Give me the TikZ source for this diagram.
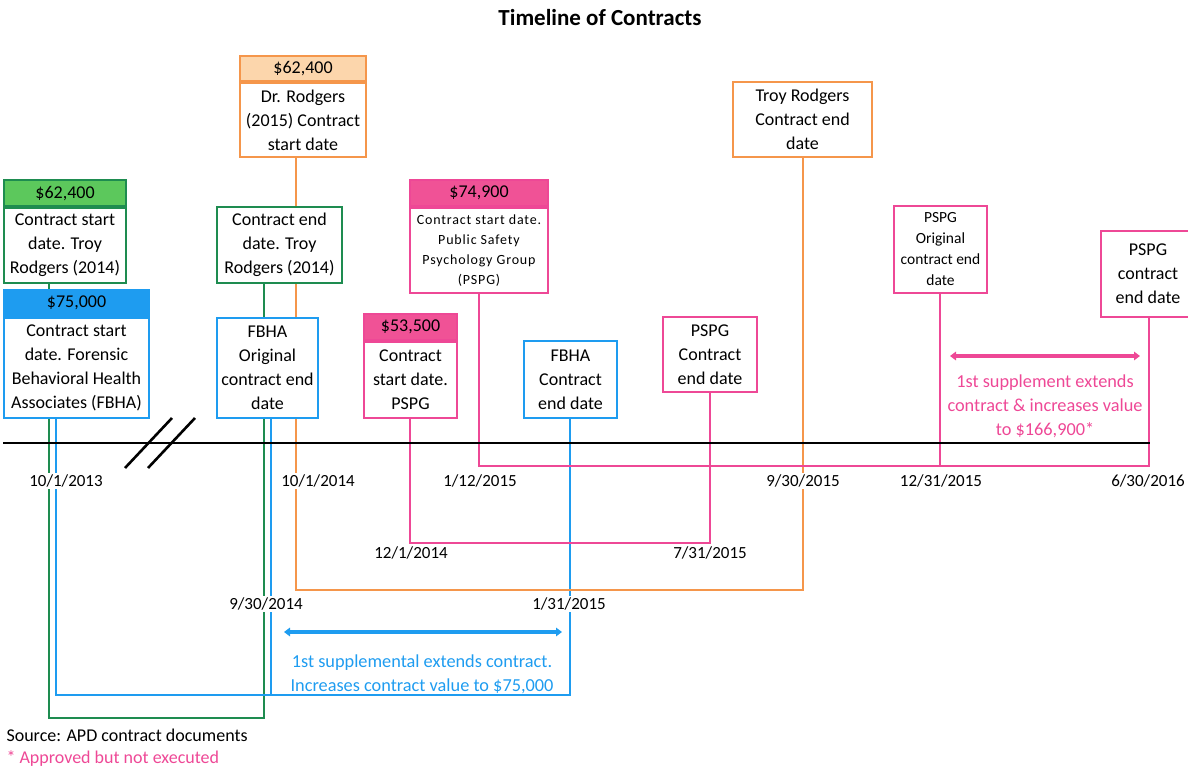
\documentclass[tikz,border=0pt]{standalone}
\usepackage{fontspec}
\setmainfont{Carlito}
\usetikzlibrary{positioning,arrows.meta,backgrounds}
\pgfdeclarelayer{edgelayer}
\pgfdeclarelayer{nodelayer}
\pgfsetlayers{background,edgelayer,nodelayer,main}
\definecolor{grn}{RGB}{30,140,80}
\definecolor{grnfill}{RGB}{92,200,92}
\definecolor{blu}{RGB}{30,156,240}
\definecolor{org}{RGB}{245,150,75}
\definecolor{orgfill}{RGB}{252,214,172}
\definecolor{pnk}{RGB}{238,72,150}
\definecolor{pnkfill}{RGB}{240,82,150}
\tikzstyle{none}=[inner sep=0mm]
\tikzstyle{box}=[draw,line width=1.8pt,fill=white,inner sep=0pt,align=center,font=\fontsize{18}{24}\selectfont]
\tikzstyle{small box}=[box,font=\fontsize{15.5}{21}\selectfont]
\tikzstyle{gbox}=[box,draw=grn]
\tikzstyle{bbox}=[box,draw=blu]
\tikzstyle{obox}=[box,draw=org]
\tikzstyle{pbox}=[box,draw=pnk]
\tikzstyle{date}=[fill=white,inner sep=2pt,font=\fontsize{17}{20}\selectfont]
\tikzstyle{gline}=[draw=grn,line width=1.8pt]
\tikzstyle{bline}=[draw=blu,line width=1.8pt]
\tikzstyle{oline}=[draw=org,line width=1.8pt]
\tikzstyle{pline}=[draw=pnk,line width=1.8pt]
\tikzstyle{timeline}=[draw=black,line width=2.6pt]
\tikzstyle{span}=[line width=4.2pt,{Triangle[length=6pt,width=8.5pt]}-{Triangle[length=6pt,width=8.5pt]}]
\tikzstyle{note}=[align=center,font=\fontsize{18.3}{24}\selectfont]

\begin{document}
\begin{tikzpicture}[x=1pt,y=-1pt]
	\useasboundingbox (0,0) rectangle (1188,767);
	\node [font=\bfseries\fontsize{23}{26}\selectfont] (title) at (600,18) {Timeline of Contracts};
	\begin{pgfonlayer}{nodelayer}
		% contract boxes
		\node [style=gbox,minimum width=122pt,minimum height=75pt] (tr14s) at (65,245.5) {Contract start\\date. Troy\\Rodgers (2014)};
		\node [style=gbox,fill=grnfill,minimum width=122pt,minimum height=26pt,above=0pt of tr14s] (tr14sh) {\$62,400};
		\node [style=bbox,minimum width=145pt,minimum height=100pt] (fbs) at (76.5,368) {Contract start\\date. Forensic\\Behavioral Health\\Associates (FBHA)};
		\node [style=bbox,fill=blu,minimum width=145pt,minimum height=26pt,above=0pt of fbs] (fbsh) {\$75,000};
		\node [style=obox,minimum width=126pt,minimum height=74pt] (drr) at (303,120) {Dr. Rodgers\\(2015) Contract\\start date};
		\node [style=obox,fill=orgfill,minimum width=126pt,minimum height=25pt,above=0pt of drr] (drrh) {\$62,400};
		\node [style=gbox,minimum width=125pt,minimum height=76pt] (tr14e) at (279.5,245) {Contract end\\date. Troy\\Rodgers (2014)};
		\node [style=bbox,minimum width=101pt,minimum height=100pt] (fbo) at (267.5,368) {FBHA\\Original\\contract end\\date};
		\node [style=pbox,minimum width=138pt,minimum height=85pt,font=\addfontfeature{LetterSpace=6}\fontsize{14}{20}\selectfont] (pspgs) at (479,250.5) {Contract start date.\\Public Safety\\Psychology Group\\(PSPG)};
		\node [style=pbox,fill=pnkfill,minimum width=138pt,minimum height=26pt,above=0pt of pspgs] (pspgsh) {\$74,900};
		\node [style=pbox,minimum width=93pt,minimum height=76pt] (pspgb) at (410.5,380) {Contract\\start date.\\PSPG};
		\node [style=pbox,fill=pnkfill,minimum width=93pt,minimum height=26pt,above=0pt of pspgb] (pspgbh) {\$53,500};
		\node [style=bbox,minimum width=93pt,minimum height=77pt] (fbe) at (570.5,379.5) {FBHA\\Contract\\end date};
		\node [style=pbox,minimum width=94pt,minimum height=75pt] (pspge) at (710,354.5) {PSPG\\Contract\\end date};
		\node [style=obox,minimum width=139pt,minimum height=75pt] (tre) at (802.5,119.5) {Troy Rodgers\\Contract end\\date};
		\node [style=pbox,small box,draw=pnk,minimum width=93pt,minimum height=87pt] (pspgo) at (940.5,249.5) {PSPG\\Original\\contract end\\date};
		\node [style=pbox,minimum width=94pt,minimum height=86pt] (pspgf) at (1148,274) {PSPG\\contract\\end date};
		% dates
		\node [style=date] (d1) at (66,481) {10/1/2013};
		\node [style=date] (d2) at (318,481) {10/1/2014};
		\node [style=date] (d3) at (480,481) {1/12/2015};
		\node [style=date] (d4) at (803,481) {9/30/2015};
		\node [style=date] (d5) at (941,481) {12/31/2015};
		\node [style=date] (d6) at (1148,481) {6/30/2016};
		\node [style=date] (d7) at (411,553) {12/1/2014};
		\node [style=date] (d8) at (710,553) {7/31/2015};
		\node [style=date] (d9) at (266,604) {9/30/2014};
		\node [style=date] (d10) at (569,604) {1/31/2015};
	\end{pgfonlayer}
	% corners of the connectors
	\coordinate (g1) at (49,718);
	\coordinate (g2) at (264,718);
	\coordinate (b1) at (56,695);
	\coordinate (b2) at (570,695);
	\coordinate (b3) at (271,695);
	\coordinate (o1) at (296,590);
	\coordinate (o2) at (803,590);
	\coordinate (p1) at (410,543);
	\coordinate (p2) at (710,543);
	\coordinate (p3) at (479,466);
	\coordinate (p4) at (1149,466);
	\coordinate (p5) at (940,466);
	\begin{pgfonlayer}{edgelayer}
		\draw [style=gline] (tr14s.south -| g1) -- (g1) -- (g2) -- (tr14e.south -| g2);
		\draw [style=bline] (fbs.south -| b1) -- (b1) -- (b2) -- (fbe.south -| b2);
		\draw [style=bline] (fbo.south -| b3) -- (b3);
		\draw [style=oline] (drr.south -| o1) -- (o1) -- (o2) -- (tre.south -| o2);
		\draw [style=pline] (pspgb.south -| p1) -- (p1) -- (p2) -- (pspge.south -| p2);
		\draw [style=pline] (pspgs.south -| p3) -- (p3) -- (p4) -- (pspgf.south -| p4);
		\draw [style=pline] (pspgo.south -| p5) -- (p5);
	\end{pgfonlayer}
	% time axis with break
	\coordinate (t0) at (3,443);
	\coordinate (t1) at (1150,443);
	\draw [style=timeline] (t0) -- (t1);
	\draw [style=timeline] (125,468) -- (172,418);
	\draw [style=timeline] (148,468) -- (195,418);
	% supplements
	\coordinate (ba) at (284,632);
	\coordinate (bb) at (562,632);
	\draw [style=span,blu] (ba) -- (bb);
	\node [style=note,text=blu] (bnote) at (422,674) {1st supplemental extends contract.\\Increases contract value to \$75,000};
	\coordinate (pa) at (950,356);
	\coordinate (pb) at (1140,356);
	\draw [style=span,pnk] (pa) -- (pb);
	\node [style=note,text=pnk] (pnote) at (1045,406) {1st supplement extends\\contract \& increases value\\to \$166,900*};
	% notes
	\node [anchor=west,font=\fontsize{18}{20}\selectfont] (src) at (3,735) {Source: APD contract documents};
	\node [anchor=west,text=pnk,font=\fontsize{18}{20}\selectfont] (ast) at (3,759) {* Approved but not executed};
\end{tikzpicture}
\end{document}
